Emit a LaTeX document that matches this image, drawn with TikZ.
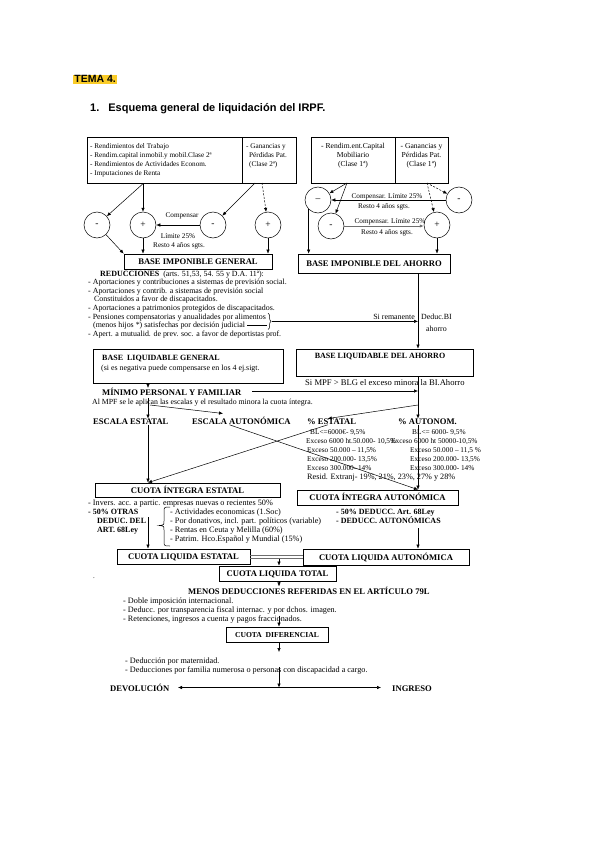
\documentclass[tikz,border=0pt]{standalone}
\usepackage{fontspec}
\setmainfont{Liberation Serif}
\newfontfamily\arialf{Liberation Sans}
\usetikzlibrary{arrows.meta,calc,decorations.pathreplacing}
\definecolor{hlyellow}{RGB}{250,204,40}
\definecolor{dgray}{RGB}{110,110,110}
\begin{document}
\begin{tikzpicture}[x=1pt,y=-1pt,
  txt/.style={anchor=base west,inner sep=0pt,font=\fontsize{7}{8.6}\selectfont},
  txs/.style={anchor=base west,inner sep=0pt,font=\fontsize{7.2}{8.6}\selectfont},
  txc/.style={anchor=base,inner sep=0pt,font=\fontsize{7.2}{8.6}\selectfont},
  txr/.style={anchor=base west,inner sep=0pt,font=\fontsize{7.3}{8.6}\selectfont},
  txd/.style={anchor=base west,inner sep=0pt,font=\fontsize{7.9}{8.6}\selectfont},
  txl/.style={anchor=base west,inner sep=0pt,font=\fontsize{8.2}{8.6}\selectfont},
  txb/.style={anchor=base west,inner sep=0pt,font=\fontsize{8.6}{8.6}\selectfont\bfseries},
  txbs/.style={anchor=base west,inner sep=0pt,font=\fontsize{8}{8.6}\selectfont\bfseries},
  bx/.style={draw,line width=0.7pt,inner sep=0pt},
  btitle/.style={anchor=base,inner sep=0pt,font=\fontsize{8.6}{8.6}\selectfont\bfseries},
  circ/.style={draw,circle,minimum size=26pt,inner sep=0pt,line width=0.5pt,font=\fontsize{9.5}{9.5}\selectfont},
  arr/.style={-{Latex[length=4pt,width=3.4pt]},line width=0.5pt},
  thinl/.style={line width=0.5pt},
  dsh/.style={dash pattern=on 2pt off 1.5pt},
]
\fill[white] (0,0) rectangle (600,848);
\useasboundingbox (0,0) rectangle (600,848);

% ---------- title
\node[fill=hlyellow,inner sep=1.2pt,anchor=base west,font=\arialf\fontsize{10.5}{12}\selectfont\bfseries] (tema) at (73,83) {TEMA 4.};
\node[anchor=base west,inner sep=0pt,font=\arialf\fontsize{11}{13}\selectfont\bfseries] (titl) at (90,111.5) {1.\hspace{9pt}Esquema general de liquidación del IRPF.};

% ---------- top boxes
\node[bx,minimum width=155pt,minimum height=46pt,anchor=north west] (tl1) at (87,137) {};
\node[bx,minimum width=54pt,minimum height=46pt,anchor=north west] (tl2) at (242,137) {};
\node[bx,minimum width=84pt,minimum height=46pt,anchor=north west] (tr1) at (311,137) {};
\node[bx,minimum width=53pt,minimum height=46pt,anchor=north west] (tr2) at (395,137) {};

\node[txs] (r1) at (90,148.5) {- Rendimientos del Trabajo};
\node[txs] (r2) at (90,157.5) {- Rendim.capital inmobil.y mobil.Clase 2ª};
\node[txs] (r3) at (90,166.5) {- Rendimientos de Actividades Econom.};
\node[txs] (r4) at (90,175.5) {- Imputaciones de Renta};
\node[txs] (g1) at (246,148.5) {- Ganancias y};
\node[txs] (g2) at (249,157.5) {Pérdidas Pat.};
\node[txs] (g3) at (249,166.5) {(Clase 2ª)};

\node[txc,font=\fontsize{7.6}{8.6}\selectfont] (m1) at (353,148.5) {- Rendim.ent.Capital};
\node[txc,font=\fontsize{7.6}{8.6}\selectfont] (m2) at (353,157.5) {Mobiliario};
\node[txc,font=\fontsize{7.6}{8.6}\selectfont] (m3) at (353,166.5) {(Clase 1ª)};
\node[txc,font=\fontsize{7.6}{8.6}\selectfont] (h1) at (421.5,148.5) {- Ganancias y};
\node[txc,font=\fontsize{7.6}{8.6}\selectfont] (h2) at (421.5,157.5) {Pérdidas Pat.};
\node[txc,font=\fontsize{7.6}{8.6}\selectfont] (h3) at (421.5,166.5) {(Clase 1ª)};

% ---------- circles
\node[circ] (cA) at (97,225) {-};
\node[circ] (cB) at (143,225) {+};
\node[circ] (cC) at (213,225) {-};
\node[circ] (cD) at (268,225) {+};
\node[circ] (cE) at (318,200) {--};
\node[circ] (cF) at (459,200) {-};
\node[circ] (cG) at (331,226) {-};
\node[circ] (cH) at (437,225) {+};

\coordinate (s2) at (255,183);
\coordinate (s3) at (262,183);
\coordinate (s4) at (347,183);
\coordinate (s5) at (427,183);

\draw[arr] (tl1.south -| cB) -- (cA);
\draw[arr] (tl1.south -| cB) -- (cB);
\draw[arr] (s2) -- (cC);
\draw[arr,dsh] (s3) -- (cD);
\draw[arr] (cC) -- (cB);
\node[txc] (cp1) at (182,217.5) {Compensar};
\node[txc] (cp2) at (178,238.5) {Límite 25\%};
\node[txc] (cp3) at (179,247.5) {Resto 4 años sgts.};

\draw[arr] (s4) -- (cE);
\draw[arr] (s4) -- (cG);
\draw[arr,dsh] (s5) -- (cF);
\draw[arr,dsh] (s5) -- (cH);
\draw[arr] (cF) -- (cE);
\node[txc] (cp4) at (387,198) {Compensar. Límite 25\%};
\node[txc] (cp5) at (384,208.5) {Resto 4 años sgts.};
\draw[arr,dgray,line width=0.9pt] (cG) -- (cG -| cH.west);
\node[txc] (cp6) at (390,223) {Compensar. Límite 25\%};
\node[txc] (cp7) at (387,234) {Resto 4 años sgts.};

% ---------- bases imponibles
\node[bx,minimum width=148pt,minimum height=15pt] (big) at (198,261.5) {};
\node[btitle] at (198,264.5) {BASE IMPONIBLE GENERAL};
\node[bx,minimum width=152pt,minimum height=19pt] (bia) at (374,263.5) {};
\node[btitle] at (374,266.5) {BASE IMPONIBLE DEL AHORRO};

\draw[arr] (cA) -- (big.north west);
\draw[arr] (cB) -- (cB |- big.north);
\draw[arr] (cD) -- (cD |- big.north);
\draw[arr] (cE.south west) -- (cE.south west |- bia.north);
\draw[arr] (cH) -- (cH |- bia.north);

% ---------- reducciones
\node[txd] (red) at (100,276) {{\bfseries\fontsize{8}{8.6}\selectfont REDUCCIONES}\ \ (arts. 51,53, 54. 55 y D.A. 11ª):};
\node[txd] (d1) at (88,284.5) {- Aportaciones y contribuciones a sistemas de previsión social.};
\node[txd] (d2) at (88,293) {- Aportaciones y contrib. a sistemas de previsión social};
\node[txd] (d3) at (94,301.5) {Constituidos a favor de discapacitados.};
\node[txd] (d4) at (88,310.5) {- Aportaciones a patrimonios protegidos de discapacitados.};
\node[txd] (pens) at (88,319) {- Pensiones compensatorias y anualidades por alimentos};
\node[txd] (judi) at (93,327.5) {(menos hijos *) satisfechas por decisión judicial};
\node[txd] (d7) at (88,336.5) {- Apert. a mutualid. de prev. soc. a favor de deportistas prof.};

\coordinate (vx) at (418,0);
\draw[thinl,decorate,decoration={brace,amplitude=3pt}] ([xshift=2pt]pens.north east) -- ([xshift=2pt]pens.east |- judi.south);
\draw[thinl] ([xshift=2pt]judi.east) -- ([xshift=1pt]pens.east |- judi.east);
\coordinate (btip) at ($([xshift=2pt]pens.north east)!0.5!([xshift=2pt]pens.east |- judi.south)+(4,0)$);
\draw[arr] (btip) -- (btip -| vx);
\node[txd,anchor=base east] (sir) at (415,319.5) {Si remanente};
\node[txd] (ddb) at (421,319.5) {Deduc.BI};
\node[txd] (ahr) at (426,331) {ahorro};

% ---------- bases liquidables
\node[bx,minimum width=190pt,minimum height=34pt] (blg) at (188,366) {};
\node[txbs] (blgt) at (102,360) {BASE\ \ LIQUIDABLE GENERAL};
\node[txd] (blgs) at (101,370.5) {(si es negativa puede compensarse en los 4 ej.sigt.};
\node[bx,minimum width=177pt,minimum height=27pt] (bla) at (384.5,362.5) {};
\node[btitle,font=\fontsize{8}{8.6}\selectfont\bfseries] (blat) at (380,358.5) {BASE LIQUIDABLE DEL AHORRO};
\node[txt,font=\fontsize{8.6}{8.6}\selectfont] (smp) at (305,385.5) {Si MPF > BLG el exceso minora la BI.Ahorro};

\draw[arr] (bia.south -| vx) -- (bla.north -| vx);

\node[txb] (mpf) at (102,395.5) {MÍNIMO PERSONAL Y FAMILIAR};
\node[txt,font=\fontsize{7.8}{8.6}\selectfont] (alm) at (92,404) {Al MPF se le aplican las escalas y el resultado minora la cuota íntegra.};
\coordinate (ax) at (148,0);
\coordinate (mm) at (252,391);
\draw[arr] (mm) -- (mm -| vx);

% ---------- escalas
\node[txb] (ee) at (93,424.5) {ESCALA ESTATAL};
\node[txb] (eaut) at (192,424.5) {ESCALA AUTONÓMICA};
\node[txb] (pe) at (307,424.5) {\% ESTATAL};
\node[txb] (pa) at (398,424.5) {\% AUTONOM.};

\draw[arr] (blg.south -| ax) -- (ax |- mpf.north);
\coordinate (a2) at (148,398);
\draw[arr] (a2) -- (a2 |- ee.north);
\coordinate (a3) at (150,405);
\coordinate (a3e) at (223,413.5);
\draw[arr] (a3) -- (a3e);
\coordinate (a4) at (418,405);
\draw[arr] (a4) -- ([xshift=-4pt]pe.north);
\draw[arr] (bla.south -| vx) -- (vx |- pa.north);

\node[txr] (e1) at (310,434) {BL<=6000€- 9,5\%};
\node[txr] (e2) at (306,443) {Exceso 6000 ht.50.000- 10,5\%};
\node[txr] (e3) at (307,452) {Exceso 50.000 – 11,5\%};
\node[txr] (e4) at (307,461) {Exceso 200.000- 13,5\%};
\node[txr] (e5) at (307,470) {Exceso 300.000- 14\%};
\node[txr,font=\fontsize{8.2}{8.6}\selectfont] (e6) at (307,479) {Resid. Extranj- 19\%, 21\%, 23\%, 27\% y 28\%};
\node[txr] (u1) at (412,434) {BL<= 6000- 9,5\%};
\node[txr] (u2) at (391,443) {Exceso 6000 ht 50000-10,5\%};
\node[txr] (u3) at (410,452) {Exceso 50.000 – 11,5 \%};
\node[txr] (u4) at (410,461) {Exceso 200.000- 13,5\%};
\node[txr] (u5) at (410,470) {Exceso 300.000- 14\%};

% ---------- cuotas integras
\node[bx,minimum width=185pt,minimum height=14pt] (cie) at (187.5,490) {};
\node[btitle] at (187.5,493) {CUOTA ÍNTEGRA ESTATAL};
\node[bx,minimum width=161pt,minimum height=15pt] (cia) at (377.5,497.5) {};
\node[btitle] at (377.5,500.5) {CUOTA ÍNTEGRA AUTONÓMICA};

\draw[arr] (ee.south -| ax) -- (cie.north -| ax);
\draw[arr] ([xshift=-4pt]pe.south) -- (cie.north -| ax);
\draw[arr] ([xshift=-12pt]eaut.south) -- (cia.north -| vx);
\draw[arr] (pa.south -| vx) -- (cia.north -| vx);

\node[txl] (iv) at (88,505) {- Invers. acc. a partic. empresas nuevas o recientes 50\%};
\node[txbs] (o1) at (88,514) {- 50\% OTRAS};
\node[txbs] (o2) at (97,523) {DEDUC. DEL};
\node[txbs] (o3) at (97,532) {ART. 68Ley};
\node[txl] (k1) at (170,514) {- Actividades economicas (1.Soc)};
\node[txl] (k2) at (170,523) {- Por donativos, incl. part. políticos (variable)};
\node[txl] (k3) at (170,532) {- Rentas en Ceuta y Melilla (60\%)};
\node[txl] (k4) at (170,541) {- Patrim. Hco.Español y Mundial (15\%)};
\draw[thinl] (170,507) .. controls (164,507) .. (164,512) -- (164,521) .. controls (164,525) .. (159,525.5) .. controls (164,526) .. (164,530) -- (164,541) .. controls (164,546) .. (170,546);

\node[txbs] (ad1) at (336,514.5) {- 50\% DEDUCC. Art. 68Ley};
\node[txbs] (ad2) at (336,523.5) {- DEDUCC. AUTONÓMICAS};

% ---------- cuotas liquidas
\node[bx,minimum width=133pt,minimum height=15pt] (cle) at (183.5,556.5) {};
\node[btitle] at (183.5,559.5) {CUOTA LIQUIDA ESTATAL};
\node[bx,minimum width=166pt,minimum height=16pt] (cla) at (386,557) {};
\node[btitle] at (386,560) {CUOTA LIQUIDA AUTONÓMICA};
\node[bx,minimum width=117pt,minimum height=15pt] (clt) at (277.5,573.5) {};
\node[btitle] at (277.5,576.5) {CUOTA LIQUIDA TOTAL};

\coordinate (a5) at (148,517);
\draw[arr] (a5) -- (a5 |- cle.north);
\coordinate (a6) at (418,528);
\draw[arr] (a6) -- (a6 |- cla.north);
\coordinate (cx) at (279,0);
\draw[dgray,line width=0.6pt] ([yshift=-2pt]cle.east) -- ([yshift=-2pt]cle.east -| cla.west);
\draw[dgray,line width=0.6pt] ([yshift=1pt]cle.east) -- ([yshift=1pt]cle.east -| cla.west);
\draw[arr] ([yshift=-2pt]cle.east -| cx) -- (cx |- clt.north);
\node[txt] (dot) at (93,578) {.};

% ---------- deducciones
\node[txb] (menos) at (188,594) {MENOS DEDUCCIONES REFERIDAS EN EL ARTÍCULO 79L};
\draw[arr] (clt.south -| cx) -- (cx |- menos.north);
\node[txl] (n1) at (123,603) {- Doble imposición internacional.};
\node[txl] (n2) at (123,612) {- Deducc. por transparencia fiscal internac. y por dchos. imagen.};
\node[txl] (n3) at (123,621) {- Retenciones, ingresos a cuenta y pagos fraccionados.};

\node[bx,minimum width=102pt,minimum height=15pt] (cd) at (277,634.5) {};
\node[btitle,font=\fontsize{7.6}{8.6}\selectfont\bfseries] at (277,637.5) {CUOTA\ \ DIFERENCIAL};
\coordinate (a8) at (279,615.5);
\draw[arr] (a8) -- (cd.north -| cx);
\coordinate (a9) at (279,652);
\draw[arr] (cd.south -| cx) -- (a9);

\node[txl] (p1) at (125,663) {- Deducción por maternidad.};
\node[txl] (p2) at (125,672) {- Deducciones por familia numerosa o personas con discapacidad a cargo.};

\node[txb] (dev) at (110,691) {DEVOLUCIÓN};
\node[txb] (ing) at (392,691) {INGRESO};
\coordinate (hl) at (178,687.5);
\coordinate (hr) at (381,687.5);
\draw[{Latex[length=4pt,width=3.4pt]}-{Latex[length=4pt,width=3.4pt]},line width=0.5pt] (hl) -- (hr);
\coordinate (a10) at (279,667);
\draw[arr] (a10) -- (a10 |- hl);
\end{tikzpicture}
\end{document}
